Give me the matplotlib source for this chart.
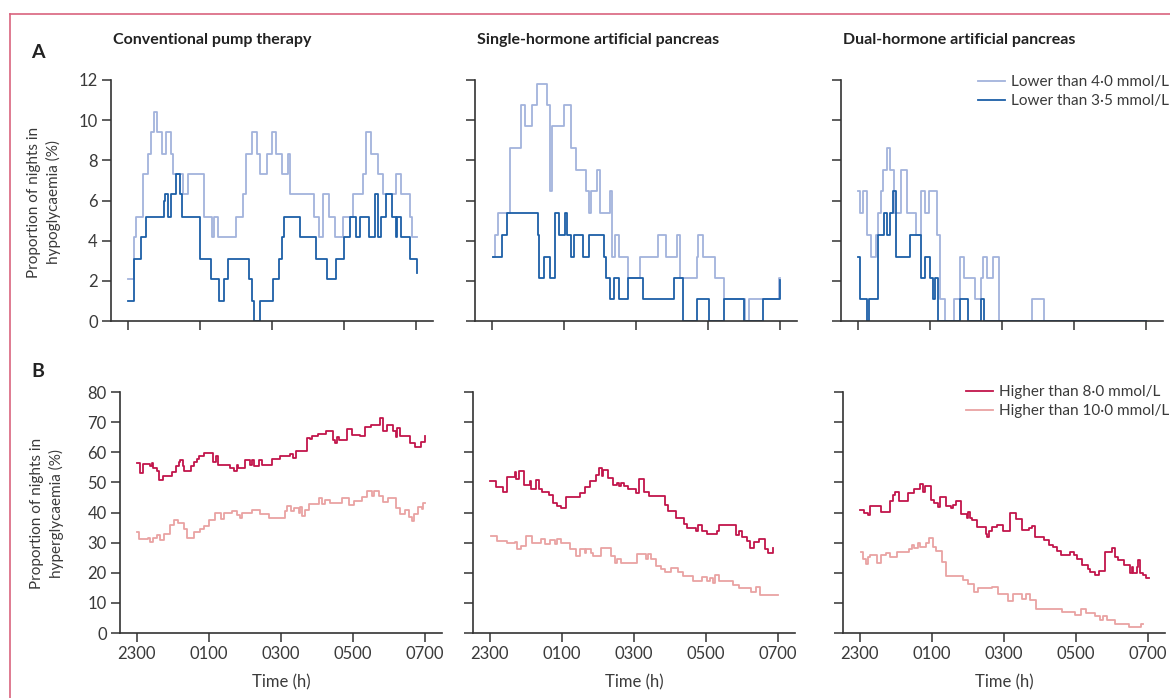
import matplotlib
matplotlib.use('Agg')
import matplotlib.pyplot as plt
from matplotlib.lines import Line2D

plt.rcParams['font.family'] = ['Lato', 'DejaVu Sans']

W, H = 1170, 698

# x values are hours after 2300, y values are % of nights (step plots, "post")
TIME_TICKS = [0, 2, 4, 6, 8]
TIME_LABELS = ['2300', '0100', '0300', '0500', '0700']
TITLES = ['Conventional pump therapy', 'Single-hormone artificial pancreas',
          'Dual-hormone artificial pancreas']

# Panel A: hypoglycaemia
CPT_LOW40_T = [0, 0.16, 0.23, 0.41, 0.56, 0.64, 0.71, 0.81, 0.94, 1.06, 1.19, 1.25, 1.53, 1.66, 2.1,
               2.33, 2.38, 2.51, 2.99, 3.19, 3.28, 3.44, 3.58, 3.68, 3.86, 4.0, 4.12, 4.28, 4.44, 4.51,
               5.17, 5.31, 5.41, 5.59, 5.76, 5.98, 6.24, 6.52, 6.6, 6.74, 6.94, 7.09, 7.44, 7.58, 7.83,
               7.9, 8.02]
CPT_LOW40_V = [2.1, 4.2, 5.2, 7.3, 8.3, 9.4, 10.4, 9.4, 8.3, 9.4, 8.3, 7.3, 6.3, 7.3, 5.2,
               4.2, 5.2, 4.2, 5.2, 6.3, 8.3, 9.4, 8.3, 7.3, 8.3, 9.4, 8.3, 7.3, 8.3, 6.3,
               5.2, 4.2, 6.3, 5.2, 4.2, 5.2, 6.3, 7.3, 9.4, 8.3, 7.3, 6.3, 7.3, 6.3, 5.2,
               4.2, 4.2]
CPT_LOW35_T = [0, 0.18, 0.36, 0.5, 0.99, 1.04, 1.1, 1.19, 1.33, 1.44, 1.5, 2.01, 2.31, 2.52, 2.68,
               2.78, 3.35, 3.44, 3.5, 3.68, 4.03, 4.19, 4.28, 4.34, 4.77, 5.22, 5.52, 5.78, 6.01,
               6.17, 6.32, 6.44, 6.69, 6.85, 6.93, 7.02, 7.17, 7.34, 7.44, 7.48, 7.59, 7.83, 8.02]
CPT_LOW35_V = [1.0, 3.1, 4.2, 5.2, 6.0, 6.3, 5.2, 6.3, 7.3, 6.3, 5.2, 3.1, 2.1, 1.0, 2.1,
               3.1, 2.1, 1.0, 0, 1.0, 2.1, 3.1, 4.2, 5.2, 4.2, 3.1, 2.1, 3.1, 4.2,
               5.2, 4.2, 5.2, 4.2, 6.3, 4.2, 5.2, 6.3, 5.2, 4.2, 5.2, 4.2, 3.1, 2.4]

SH_LOW40_T = [0.03, 0.09, 0.17, 0.49, 0.82, 0.92, 1.1, 1.25, 1.53, 1.6, 1.66, 1.99, 2.19, 2.33,
              2.61, 2.69, 2.75, 2.92, 3.01, 3.27, 3.34, 3.41, 3.53, 3.77, 4.12, 4.6, 4.84, 5.14,
              5.23, 5.69, 5.73, 5.86, 6.2, 6.44, 7.04, 7.13, 7.96, 8.0]
SH_LOW40_V = [3.2, 4.3, 5.4, 8.6, 10.75, 9.7, 10.75, 11.8, 10.75, 6.45, 9.7, 10.75, 8.6, 7.5,
              6.45, 5.4, 6.45, 7.5, 5.4, 6.45, 3.2, 4.3, 3.2, 2.15, 3.2, 4.3, 3.2, 4.3,
              2.15, 3.2, 4.3, 3.2, 2.15, 1.1, 0, 1.1, 2.15, 2.15]
SH_LOW35_T = [0.03, 0.28, 0.42, 1.27, 1.32, 1.44, 1.6, 1.76, 1.85, 2.04, 2.08, 2.19, 2.27, 2.52,
              2.69, 3.1, 3.18, 3.27, 3.4, 3.54, 3.77, 4.19, 5.05, 5.31, 5.69, 6.02, 6.45, 6.99,
              7.53, 8.0]
SH_LOW35_V = [3.2, 4.3, 5.4, 4.3, 2.15, 3.2, 2.15, 5.4, 4.3, 5.4, 4.3, 3.2, 4.3, 3.2,
              4.3, 3.2, 2.15, 1.1, 2.15, 1.1, 2.15, 1.1, 2.15, 0, 1.1, 0, 1.1, 0,
              1.1, 2.05]

DH_LOW40_T = [0, 0.07, 0.14, 0.24, 0.37, 0.49, 0.56, 0.63, 0.69, 0.8, 0.89, 1.0, 1.19, 1.35, 1.62,
              1.74, 1.85, 1.97, 2.2, 2.28, 2.41, 2.67, 2.83, 2.94, 3.24, 3.41, 3.48, 3.59, 3.76,
              3.92, 4.84, 5.17, 7.99]
DH_LOW40_V = [6.45, 5.4, 6.45, 4.3, 3.2, 4.3, 5.4, 6.45, 7.5, 8.6, 7.5, 5.4, 7.5, 5.4, 4.3,
              6.45, 5.4, 6.45, 4.3, 1.1, 0, 1.1, 3.2, 2.15, 1.1, 2.15, 3.2, 2.15, 3.2,
              0, 1.1, 0, 0]
DH_LOW35_T = [0, 0.07, 0.26, 0.31, 0.56, 0.72, 0.81, 0.88, 0.98, 1.07, 1.44, 1.74, 1.85, 2.0,
              2.09, 2.14, 2.23, 2.83, 3.06, 3.41, 3.5, 7.99]
DH_LOW35_V = [3.2, 1.1, 0, 1.1, 4.3, 5.4, 4.3, 5.4, 6.45, 3.2, 4.3, 2.15, 3.2, 2.15,
              1.1, 2.15, 0, 1.1, 0, 1.1, 0, 0]

# Panel B: hyperglycaemia
CPT_HIGH80_T = [0, 0.09, 0.17, 0.37, 0.42, 0.46, 0.56, 0.6, 0.71, 0.97, 1.09, 1.16, 1.2, 1.28, 1.32,
                1.5, 1.59, 1.67, 1.73, 1.87, 2.11, 2.2, 2.24, 2.59, 2.69, 2.78, 2.82, 3.01, 3.13,
                3.19, 3.24, 3.38, 3.47, 3.75, 3.98, 4.26, 4.33, 4.43, 4.73, 4.8, 4.86, 5.02, 5.24,
                5.45, 5.5, 5.55, 5.62, 5.82, 5.96, 6.19, 6.33, 6.49, 6.75, 6.82, 6.95, 7.1, 7.18,
                7.23, 7.31, 7.57, 7.72, 7.88, 8.0]
CPT_HIGH80_V = [56.5, 53, 56.2, 55.3, 56.4, 54.8, 53.9, 50.9, 52.2, 53.3, 55.3, 56.6, 57.5, 55.3, 53.9,
                55.3, 56.6, 57.7, 58.6, 59.6, 56.6, 58.6, 55.9, 54.8, 53.9, 55.9, 54.8, 57.5, 55.9,
                57.5, 55.5, 57.5, 55.9, 57.7, 58.6, 59.4, 58.1, 60.3, 64.6, 64.4, 65.3, 65.9, 67.1,
                64, 63, 65, 64, 67.7, 65.8, 65.3, 68.4, 69, 71.3, 67.1, 69, 67, 65,
                68, 65.3, 63, 61.6, 63.5, 65.4]
CPT_HIGH100_T = [0, 0.07, 0.32, 0.35, 0.44, 0.56, 0.63, 0.74, 0.91, 1.02, 1.13, 1.3, 1.39, 1.59, 1.76,
                 1.87, 2.0, 2.18, 2.33, 2.43, 2.64, 2.78, 2.85, 2.92, 3.19, 3.41, 3.66, 4.12, 4.17,
                 4.28, 4.35, 4.49, 4.54, 4.58, 4.68, 4.77, 5.05, 5.14, 5.23, 5.37, 5.69, 5.88, 6.02,
                 6.25, 6.39, 6.53, 6.59, 6.71, 6.83, 6.96, 7.2, 7.3, 7.45, 7.55, 7.63, 7.68, 7.79,
                 7.91, 7.95, 8.0]
CPT_HIGH100_V = [33.4, 31.2, 31.7, 30.1, 31.5, 32.6, 31, 32.9, 36, 37.6, 36.5, 34.5, 31.5, 33.4, 34.5,
                 35.4, 37.6, 39.8, 37.8, 39.8, 40.6, 39.3, 38.2, 39.8, 40.7, 39.6, 38.2, 40.4, 42,
                 40.4, 41.5, 40, 41.8, 38.9, 40.9, 42.8, 44.8, 42.9, 44.2, 43.1, 44.8, 42.6, 43.9,
                 45.1, 47, 45.4, 47.3, 45.4, 43.5, 44.8, 41.5, 39.6, 40.9, 38.6, 37.2, 39.4, 41.9,
                 41.2, 43, 43]

SH_HIGH80_T = [0, 0.16, 0.36, 0.48, 0.69, 0.73, 0.8, 0.94, 1.1, 1.15, 1.29, 1.35, 1.45, 1.64, 1.75,
               1.86, 1.98, 2.12, 2.49, 2.63, 2.79, 2.94, 3.02, 3.1, 3.14, 3.28, 3.42, 3.53, 3.58,
               3.65, 3.71, 3.83, 4.06, 4.14, 4.27, 4.42, 4.85, 4.94, 5.16, 5.38, 5.48, 5.71, 5.78,
               5.9, 6.03, 6.31, 6.36, 6.84, 6.92, 7.01, 7.14, 7.21, 7.33, 7.47, 7.63, 7.72, 7.86]
SH_HIGH80_V = [50.6, 48.4, 46.7, 51.7, 53.6, 51, 53.9, 49.2, 50.6, 47.8, 50.8, 47.8, 46.9, 45.8, 43.3,
               42, 41.4, 45.1, 46.4, 48.4, 50.3, 52.5, 54.7, 52.2, 54.2, 51.4, 49.2, 49.9, 48.8,
               49.9, 48.8, 47.7, 46.6, 51, 46.9, 45.5, 42.5, 40.6, 38.1, 36.2, 35, 34, 35.7,
               34, 32.8, 34, 35.9, 32.6, 33.7, 32, 30.6, 28.1, 30.3, 31.2, 27.8, 26.5, 28.1]
SH_HIGH100_T = [0.04, 0.19, 0.47, 0.69, 0.75, 0.87, 1.01, 1.18, 1.43, 1.52, 1.68, 1.8, 1.86, 1.98,
                2.21, 2.38, 2.49, 2.63, 2.68, 2.81, 2.86, 3.09, 3.37, 3.46, 3.53, 3.65, 4.08, 4.34,
                4.39, 4.48, 4.6, 4.76, 4.85, 5.04, 5.22, 5.36, 5.64, 5.9, 6.03, 6.12, 6.18, 6.24,
                6.36, 6.75, 6.92, 7.26, 7.38, 7.51, 8.0]
SH_HIGH100_V = [32.2, 30.6, 29.8, 30.3, 27.8, 28.9, 32.2, 29.8, 31.1, 29.6, 30.9, 29.6, 31.2, 30,
                27.8, 25.4, 27.8, 26.7, 27.8, 26.7, 25.6, 28.1, 25.4, 23.4, 24.5, 23.4, 26.1, 24.5,
                26.1, 24.5, 22.3, 21.2, 20.2, 21.5, 20.2, 18.9, 17.1, 18.7, 17.4, 18.2, 16.7, 19.3,
                17.1, 15.9, 14.8, 13.7, 15.4, 12.6, 12.6]

DH_HIGH80_T = [0, 0.11, 0.22, 0.27, 0.59, 0.84, 0.91, 0.96, 1.08, 1.33, 1.49, 1.67, 1.76, 1.82, 1.98,
               2.06, 2.16, 2.22, 2.39, 2.53, 2.59, 2.68, 2.82, 2.97, 3.0, 3.05, 3.12, 3.26, 3.49,
               3.54, 3.59, 3.68, 3.8, 3.97, 4.16, 4.32, 4.49, 4.69, 4.78, 4.85, 5.11, 5.26, 5.35,
               5.47, 5.57, 5.82, 5.95, 6.03, 6.17, 6.33, 6.4, 6.52, 6.65, 6.81, 7.0, 7.07, 7.16,
               7.32, 7.5, 7.55, 7.59, 7.69, 7.73, 7.78, 7.87, 7.94, 8.03]
DH_HIGH80_V = [40.9, 40, 39.2, 42, 40.3, 43.7, 45.9, 46.7, 43.7, 46.4, 47.8, 49.6, 46.7, 48.7, 44.2,
               43.1, 41.8, 45.3, 42.2, 41.4, 42.6, 43.7, 39.6, 38.1, 40.3, 38.1, 37.6, 35.1, 32.9,
               31.8, 34, 35.3, 35.9, 34, 40, 37.8, 34.2, 34.8, 35.6, 32, 30.9, 29.2, 28.7,
               27.3, 25.9, 27, 25.9, 24.6, 22.6, 21.4, 20.1, 19.2, 20.7, 27, 28.3, 25.3, 24.2,
               22.6, 19.8, 22, 19.8, 21.8, 24.2, 19.8, 19.2, 18.4, 18.4]
DH_HIGH100_T = [0.02, 0.08, 0.16, 0.22, 0.29, 0.47, 0.59, 0.71, 0.84, 1.02, 1.37, 1.45, 1.51, 1.6,
                1.67, 1.83, 1.93, 2.02, 2.11, 2.28, 2.39, 2.87, 3.01, 3.17, 3.29, 3.57, 3.68, 3.82,
                4.12, 4.25, 4.49, 4.6, 4.71, 4.89, 5.61, 5.96, 6.15, 6.28, 6.53, 6.67, 6.76, 6.86,
                7.09, 7.46, 7.81, 7.85]
DH_HIGH100_V = [27, 24.4, 22.9, 25.1, 25.9, 23.3, 25.9, 26.7, 25.3, 27, 27.8, 29.2, 28.1, 29.8,
                28.4, 29.8, 31.4, 28.7, 27.3, 23.7, 18.9, 17.6, 16.2, 13.7, 15.1, 14.8, 15.3, 12.9,
                10.7, 13.1, 11.4, 13.1, 11.1, 8.1, 7, 5.9, 8.1, 6.7, 5.6, 4.4, 5.6, 4.2,
                3.1, 2, 2.9, 2.9]

LIGHT_BLUE = '#a3b3dc'
DARK_BLUE = '#1c5fa7'
DARK_RED = '#c2154b'
LIGHT_RED = '#e9a3a3'
AXIS_GREY = '#333333'
TEXT_GREY = '#3a3a3a'

hypo = [
    [(CPT_LOW40_T, CPT_LOW40_V), (CPT_LOW35_T, CPT_LOW35_V)],
    [(SH_LOW40_T, SH_LOW40_V), (SH_LOW35_T, SH_LOW35_V)],
    [(DH_LOW40_T, DH_LOW40_V), (DH_LOW35_T, DH_LOW35_V)],
]
hyper = [
    [(CPT_HIGH80_T, CPT_HIGH80_V), (CPT_HIGH100_T, CPT_HIGH100_V)],
    [(SH_HIGH80_T, SH_HIGH80_V), (SH_HIGH100_T, SH_HIGH100_V)],
    [(DH_HIGH80_T, DH_HIGH80_V), (DH_HIGH100_T, DH_HIGH100_V)],
]

fig = plt.figure(figsize=(W / 100, H / 100), dpi=100)

# pink frame round the figure
fig.add_artist(Line2D([10 / W, 10 / W], [0, 1 - 14 / H], color='#d9637e', lw=1.2))
fig.add_artist(Line2D([10 / W, 1], [1 - 14 / H, 1 - 14 / H], color='#d9637e', lw=1.2))

AX_W = 322 / W
AX_H = 241 / H
TOP_LEFTS = [111, 475, 841]
BOT_LEFTS = [120, 473, 843]


def style_axis(ax, ymax, ystep, show_ylabels, show_xlabels):
    ax.set_xlim(-0.47, 8.47)
    ax.set_ylim(0, ymax)
    ax.set_yticks(range(0, ymax + 1, ystep))
    ax.set_xticks(TIME_TICKS)
    ax.set_xticklabels(TIME_LABELS if show_xlabels else [])
    if not show_ylabels:
        ax.set_yticklabels([])
    for side in ['top', 'right']:
        ax.spines[side].set_visible(False)
    for side in ['left', 'bottom']:
        ax.spines[side].set_color(AXIS_GREY)
        ax.spines[side].set_linewidth(1.2)
    ax.tick_params(length=6.5, width=1.1, color=AXIS_GREY, labelsize=12,
                   labelcolor=TEXT_GREY, pad=3)
    ax.patch.set_alpha(0)


top_axes = []
for i in range(3):
    ax = fig.add_axes([TOP_LEFTS[i] / W, (H - 321) / H, AX_W, AX_H])
    (t40, v40), (t35, v35) = hypo[i]
    ax.plot(t40, v40, drawstyle='steps-post', color=LIGHT_BLUE, lw=1.3,
            label='Lower than 4·0 mmol/L')
    ax.plot(t35, v35, drawstyle='steps-post', color=DARK_BLUE, lw=1.3,
            label='Lower than 3·5 mmol/L')
    style_axis(ax, 12, 2, i == 0, False)
    fig.text((TOP_LEFTS[i] + 2) / W, 1 - 40 / H, TITLES[i], fontsize=11.5, fontweight='bold',
             color='#222222', va='center', ha='left')
    top_axes.append(ax)

bot_axes = []
for i in range(3):
    ax = fig.add_axes([BOT_LEFTS[i] / W, (H - 633) / H, AX_W, AX_H])
    (t80, v80), (t100, v100) = hyper[i]
    ax.plot(t80, v80, drawstyle='steps-post', color=DARK_RED, lw=1.3,
            label='Higher than 8·0 mmol/L')
    ax.plot(t100, v100, drawstyle='steps-post', color=LIGHT_RED, lw=1.3,
            label='Higher than 10·0 mmol/L')
    style_axis(ax, 80, 10, i == 0, True)
    fig.text((BOT_LEFTS[i] + 161) / W, 1 - 682 / H, 'Time (h)', fontsize=12,
             color=TEXT_GREY, ha='center', va='center')
    bot_axes.append(ax)

legend_kw = dict(bbox_transform=fig.transFigure, frameon=False, fontsize=11,
                 handlelength=1.75, handletextpad=0.4, labelspacing=0.35,
                 borderpad=0, borderaxespad=0, labelcolor=TEXT_GREY, loc='upper left')
top_axes[2].legend(bbox_to_anchor=(978 / W, 1 - 75 / H), **legend_kw)
bot_axes[2].legend(bbox_to_anchor=(966 / W, 1 - 385 / H), **legend_kw)

fig.text(44 / W, 1 - 202 / H, 'Proportion of nights in\nhypoglycaemia (%)', rotation=90,
         fontsize=11, color=TEXT_GREY, ha='center', va='center', multialignment='center',
         linespacing=1.45)
fig.text(47 / W, 1 - 513 / H, 'Proportion of nights in\nhyperglycaemia (%)', rotation=90,
         fontsize=11, color=TEXT_GREY, ha='center', va='center', multialignment='center',
         linespacing=1.45)

fig.text(38 / W, 1 - 52 / H, 'A', fontsize=14, fontweight='bold', color='#222222',
         ha='center', va='center')
fig.text(38 / W, 1 - 371 / H, 'B', fontsize=14, fontweight='bold', color='#222222',
         ha='center', va='center')

fig.savefig('out.png', dpi=100)
